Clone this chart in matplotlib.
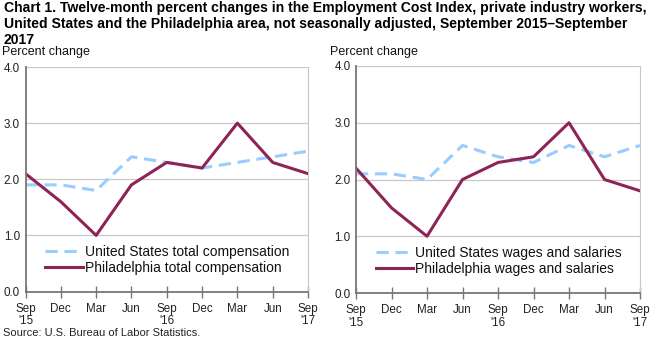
import matplotlib
matplotlib.use("Agg")
import matplotlib.pyplot as plt

plt.rcParams['font.family'] = ['Liberation Sans', 'DejaVu Sans']

x_labels = ["Sep\n'15", "Dec", "Mar", "Jun", "Sep\n'16", "Dec", "Mar", "Jun", "Sep\n'17"]
us_total = [1.9, 1.9, 1.8, 2.4, 2.3, 2.2, 2.3, 2.4, 2.5]
phl_total = [2.1, 1.6, 1.0, 1.9, 2.3, 2.2, 3.0, 2.3, 2.1]
us_wages = [2.1, 2.1, 2.0, 2.6, 2.4, 2.3, 2.6, 2.4, 2.6]
phl_wages = [2.2, 1.5, 1.0, 2.0, 2.3, 2.4, 3.0, 2.0, 1.8]
y_ticks = [0.0, 1.0, 2.0, 3.0, 4.0]

US_COLOR = "#99CCFF"
PHL_COLOR = "#8E2356"

W, H = 650, 337
fig = plt.figure(figsize=(W / 100, H / 100), dpi=100)

fig.text(4 / W, 1 - 1 / H,
         "Chart 1. Twelve-month percent changes in the Employment Cost Index, private industry workers,\n"
         "United States and the Philadelphia area, not seasonally adjusted, September 2015\u2013September\n"
         "2017", fontsize=10.1, fontweight='bold', va='top', ha='left', linespacing=1.17)
fig.text(3 / W, 1.5 / H, "Source: U.S. Bureau of Labor Statistics.", fontsize=8.0, va='baseline', ha='left', color='#222222')


def panel(left_px, right_px, top_px, bottom_px, us, phl, us_lab, phl_lab, ylabel_x):
    ax = fig.add_axes([left_px / W, 1 - bottom_px / H, (right_px - left_px) / W, (bottom_px - top_px) / H])
    xs = list(range(len(x_labels)))
    ax.plot(xs, us, color=US_COLOR, lw=2.2, dashes=(4, 2.2), label=us_lab, solid_capstyle='butt')
    ax.plot(xs, phl, color=PHL_COLOR, lw=2.2, label=phl_lab)
    ax.set_xlim(0, len(x_labels) - 1)
    ax.set_ylim(0, 4)
    ax.set_yticks(y_ticks)
    ax.set_yticklabels([f"{v:.1f}" for v in y_ticks], fontsize=8.4, color='#222222')
    ax.set_xticks(xs)
    ax.set_xticklabels(x_labels, fontsize=8.4, color='#222222', linespacing=1.05)
    ax.yaxis.grid(True, color='#C8C8C8', lw=0.9)
    ax.set_axisbelow(True)
    ax.tick_params(axis='y', length=0, pad=4)
    ax.tick_params(axis='x', direction='inout', length=8, width=1, color='#777777', pad=4)
    ax.spines['top'].set_visible(False)
    ax.spines['right'].set_color('#C8C8C8')
    ax.spines['left'].set_color('#777777')
    ax.spines['left'].set_linewidth(1.3)
    ax.spines['bottom'].set_color('#777777')
    ax.spines['bottom'].set_linewidth(1.3)
    ax.set_facecolor('white')
    leg = ax.legend(loc='lower left', bbox_to_anchor=(0.05, 0.05), frameon=False, fontsize=10.0,
                    handlelength=2.7, handletextpad=0.15, labelspacing=0.15, borderaxespad=0)
    for t in leg.get_texts():
        t.set_color('#111111')
    fig.text(ylabel_x / W, 1 - 52 / H, "Percent change", fontsize=9.0, va='center', ha='left', color='#111111')
    return ax


panel(25.5, 308, 67, 291.5, us_total, phl_total,
      "United States total compensation", "Philadelphia total compensation", 2)
panel(356, 640, 66, 293, us_wages, phl_wages,
      "United States wages and salaries", "Philadelphia wages and salaries", 330)

fig.savefig("out.png", dpi=100, facecolor='white')
